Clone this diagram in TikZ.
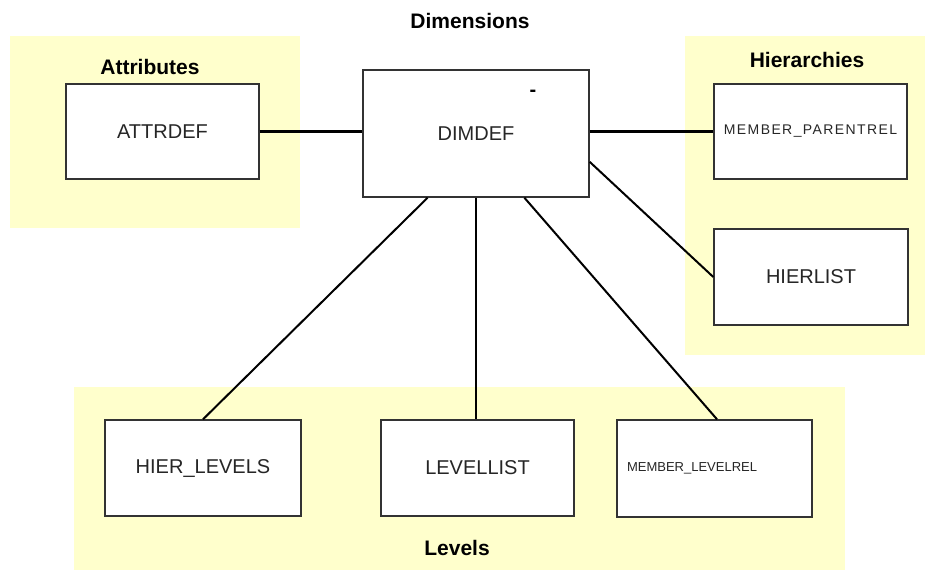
\documentclass[tikz,border=0pt]{standalone}
\usepackage{fontspec}
\setmainfont{Liberation Sans}
\usetikzlibrary{positioning}
\definecolor{panelyellow}{HTML}{FFFFCC}

\begin{document}
\begin{tikzpicture}[x=1pt, y=-1pt,
    tablebox/.style={draw=black!80, line width=1.4pt, fill=white, inner sep=0pt,
                     minimum width=193, minimum height=95,
                     font=\fontsize{20}{24}\selectfont, text=black!85},
    title/.style={font=\fontsize{21}{25}\selectfont\bfseries, anchor=base},
    link/.style={line width=2.8pt},
    slimlink/.style={line width=2pt}]
  \useasboundingbox (0,0) rectangle (925,571);

  % Panels
  \fill[panelyellow] (10,36)  rectangle (300,228);
  \fill[panelyellow] (685,36) rectangle (925,355);
  \fill[panelyellow] (74,387) rectangle (845,570);

  % Titles
  \node[title] (dimtitle)  at (470,28)  {Dimensions};
  \node[title] (attrtitle) at (150,74)  {Attributes};
  \node[title] (hiertitle) at (807,67)  {Hierarchies};
  \node[title] (levtitle)  at (457,555) {Levels};

  % Tables
  \node[tablebox]                                    (attrdef)    at (162.5,131.5) {ATTRDEF};
  \node[tablebox, minimum width=226, minimum height=127] (dimdef) at (476,133.5)   {DIMDEF};
  \node[tablebox, font=\fontsize{14}{16}\selectfont\addfontfeature{LetterSpace=10}]
                                                     (parentrel)  at (810.5,131.5) {MEMBER\_PARENTREL};
  \node[tablebox, minimum width=194, minimum height=96] (hierlist) at (811,277)    {HIERLIST};
  \node[tablebox, minimum width=196, minimum height=96] (hierlevels) at (203,468)  {HIER\_LEVELS};
  \node[tablebox, minimum height=96]                 (levellist)  at (477.5,468)   {LEVELLIST};
  \node[tablebox, minimum width=195, minimum height=97, inner xsep=10pt, text width=175pt,
        align=left, font=\fontsize{13}{15}\selectfont] (levelrel) at (714.5,468.5) {MEMBER\_LEVELREL};

  % Mark inside DIMDEF
  \node[font=\fontsize{20}{22}\selectfont\bfseries, inner sep=0pt] (dimmark) at (533,93) {-};

  % Links
  \draw[link]     (attrdef.east)   -- (attrdef.east -| dimdef.west);
  \draw[link]     (dimdef.east |- parentrel.west) -- (parentrel.west);
  \draw[slimlink] (dimdef.-14.6)   -- (hierlist.west);
  \draw[slimlink] (dimdef.-127.4)  -- (hierlevels.north);
  \draw[slimlink] (dimdef.south)   -- (dimdef.south |- levellist.north);
  \draw[slimlink] (dimdef.-53.8)   -- ([xshift=2.5pt]levelrel.north);
\end{tikzpicture}
\end{document}
